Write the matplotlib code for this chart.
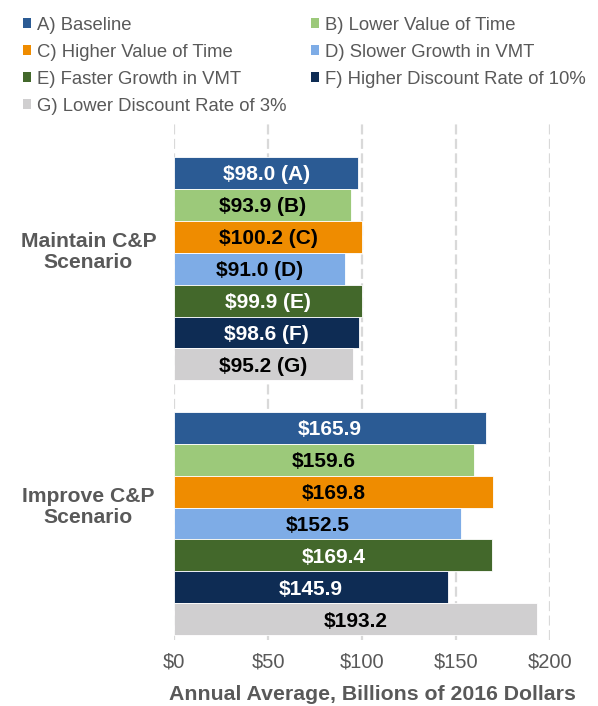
import matplotlib
matplotlib.use("Agg")
import matplotlib.pyplot as plt
import matplotlib.transforms as mtransforms
import numpy as np

plt.rcParams['font.family'] = ['Liberation Sans', 'DejaVu Sans']

categories = ["Maintain C&P\nScenario", "Improve C&P\nScenario"]
series_names = ["A) Baseline", "B) Lower Value of Time", "C) Higher Value of Time",
                "D) Slower Growth in VMT", "E) Faster Growth in VMT",
                "F) Higher Discount Rate of 10%", "G) Lower Discount Rate of 3%"]
letters = ["A", "B", "C", "D", "E", "F", "G"]
maintain = [98.0, 93.9, 100.2, 91.0, 99.9, 98.6, 95.2]
improve = [165.9, 159.6, 169.8, 152.5, 169.4, 145.9, 193.2]
xticks = [0, 50, 100, 150, 200]
xtick_labels = ["$0", "$50", "$100", "$150", "$200"]

colors = ["#2B5B94", "#9CC97A", "#EF8C00", "#7EACE6", "#43682B", "#0E2C54", "#D0CFD0"]
text_colors = ["white", "black", "black", "black", "white", "white", "black"]
gray = "#595959"

W, H = 598, 706
fig = plt.figure(figsize=(W / 100, H / 100), dpi=100)
ax_top, ax_bot = 124, 640
ax = fig.add_axes([174 / W, 1 - ax_bot / H, (550 - 174) / W, (ax_bot - ax_top) / H])

n = len(series_names)
h = 0.878 / n
group_pos = np.arange(len(categories))
handles = []
for i in range(n):
    vals = [maintain[i], improve[i]]
    ys = group_pos + (i - (n - 1) / 2) * h
    b = ax.barh(ys, vals, height=h, color=colors[i], edgecolor="white",
                linewidth=0.6, label=series_names[i], zorder=3)
    handles.append(b)
    for j, (y, v) in enumerate(zip(ys, vals)):
        txt = f"${v:.1f} ({letters[i]})" if j == 0 else f"${v:.1f}"
        ax.text(v / 2, y, txt, ha="center", va="center_baseline", fontsize=15,
                fontweight="bold", color=text_colors[i], zorder=4)

ax.set_xlim(0, 200)
ax.set_ylim(1.457, -0.567)
ax.set_xticks(xticks)
ax.set_xticklabels(xtick_labels, fontsize=14.5, color=gray)
ax.set_yticks([])
ax.tick_params(axis="x", length=0, pad=9)
for s in ax.spines.values():
    s.set_visible(False)
ax.xaxis.grid(True, color="#D9D9D9", linestyle=(0, (4.5, 2)), linewidth=1.6, zorder=0)
ax.set_axisbelow(True)

# category labels (left of the axes, slightly above the group centre)
blend = mtransforms.blended_transform_factory(fig.transFigure, ax.transData)
for y, cat in zip(group_pos, categories):
    ax.annotate(cat, xy=(88.5 / W, y), xycoords=blend, xytext=(0, 12),
                textcoords="offset points", ha="center", va="center",
                fontsize=15.2, fontweight="bold", color=gray,
                multialignment="center", linespacing=1.17, annotation_clip=False)

fig.text(372 / W, 1 - 700.5 / H, "Annual Average, Billions of 2016 Dollars",
         ha="center", va="baseline", fontsize=15.3, fontweight="bold", color=gray)

order = [0, 2, 4, 6, 1, 3, 5]
leg = fig.legend([handles[k] for k in order], [series_names[k] for k in order],
                 ncol=2, loc="upper left", bbox_to_anchor=(22.5 / W, 1 - 16.5 / H),
                 frameon=False, fontsize=13.3, handlelength=0.45, handleheight=0.45,
                 handletextpad=0.32, columnspacing=1.35, labelspacing=0.55,
                 borderaxespad=0, borderpad=0)
for t in leg.get_texts():
    t.set_color(gray)
for p in leg.get_patches():
    p.set_edgecolor("none")

fig.savefig("out.png", dpi=100)
